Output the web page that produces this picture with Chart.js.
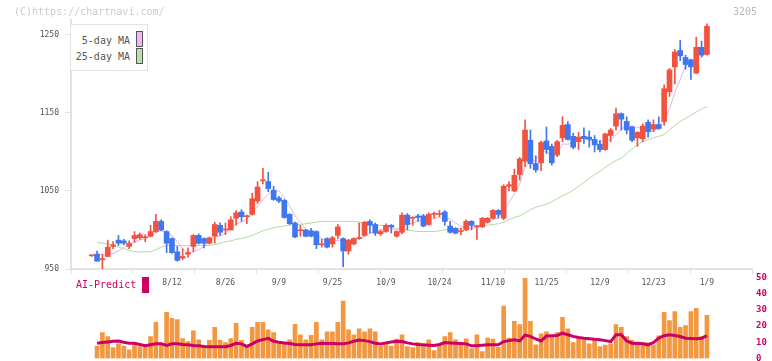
<!DOCTYPE html>
<html>
<head>
<meta charset="utf-8">
<script src="https://cdn.jsdelivr.net/npm/chart.js@4.4.1/dist/chart.umd.min.js"></script>
<style>
  body { margin: 0; background: #fff; }
  #wrap { position: relative; width: 772px; height: 361px; font-family: 'DejaVu Sans Mono', monospace; overflow: hidden; }
  canvas { position: absolute; left: 0; }
  #main { top: 0; }
  #vol { top: 270px; }
  .txt { position: absolute; white-space: nowrap; line-height: 12px; }
  .sw { position: absolute; width: 5px; height: 14px; border: 1px solid #555; }
</style>
</head>
<body>
<div id="wrap">
  <canvas id="vol" width="772" height="91"></canvas>
  <canvas id="main" width="772" height="300"></canvas>
  <div class="txt" style="left:14px;top:6px;font-size:10px;color:#ccc">(C)https://chartnavi.com/</div>
  <div class="txt" style="left:733px;top:6px;font-size:10px;color:#bbb">3205</div>
  <div style="position:absolute;left:70px;top:24px;width:76px;height:45px;border:1px solid #e2e2e2;background:#fff"></div>
  <div class="txt" style="right:642px;top:35px;font-size:10px;color:#555">5-day MA</div>
  <div class="txt" style="right:642px;top:51px;font-size:10px;color:#555">25-day MA</div>
  <div class="sw" style="left:136px;top:31px;background:#f0b8ee"></div>
  <div class="sw" style="left:136px;top:48px;background:#b9dfaa"></div>
  <div class="txt" style="left:76px;top:279px;font-size:10px;color:#cc0066">AI-Predict</div>
  <div style="position:absolute;left:142px;top:277px;width:7px;height:16px;background:#cc0066"></div>
</div>
<script>
'use strict';

let dates = ['7/18', '7/22', '7/23', '7/24', '7/25', '7/28', '7/29', '7/30', '7/31', '8/1',
  '8/4', '8/5', '8/6', '8/7', '8/8', '8/12', '8/13', '8/14', '8/15', '8/18',
  '8/19', '8/20', '8/21', '8/22', '8/25', '8/26', '8/27', '8/28', '8/29', '9/1',
  '9/2', '9/3', '9/4', '9/5', '9/8', '9/9', '9/10', '9/11', '9/12', '9/16',
  '9/17', '9/18', '9/19', '9/22', '9/24', '9/25', '9/26', '9/29', '9/30', '10/1',
  '10/2', '10/3', '10/6', '10/7', '10/8', '10/9', '10/10', '10/14', '10/15', '10/16',
  '10/17', '10/20', '10/21', '10/22', '10/23', '10/24', '10/27', '10/28', '10/29', '10/30',
  '10/31', '11/4', '11/5', '11/6', '11/7', '11/10', '11/11', '11/12', '11/13', '11/14',
  '11/17', '11/18', '11/19', '11/20', '11/21', '11/25', '11/26', '11/27', '11/28', '12/1',
  '12/2', '12/3', '12/4', '12/5', '12/8', '12/9', '12/10', '12/11', '12/12', '12/15',
  '12/16', '12/17', '12/18', '12/19', '12/22', '12/23', '12/24', '12/25', '12/26', '12/29',
  '12/30', '1/5', '1/6', '1/7', '1/8', '1/9'];

let shownDates = ['8/12', '8/26', '9/9', '9/25', '10/9', '10/24', '11/10', '11/25', '12/9', '12/23', '1/9'];
let priceTicks = [950, 1050, 1150, 1250];

let open = [967, 969, 962, 966, 979, 987, 986, 979, 989, 990,
  990, 992, 998, 1011, 998, 989, 972, 964, 969, 979,
  993, 989, 983, 992, 1006, 1000, 1000, 1015, 1023, 1017,
  1020, 1037, 1063, 1062, 1051, 1041, 1038, 1020, 1009, 999,
  1000, 999, 998, 981, 989, 982, 993, 989, 973, 982,
  989, 993, 1011, 1007, 995, 998, 1006, 992, 997, 1019,
  1015, 1018, 1018, 1007, 1020, 1020, 1023, 1005, 1002, 998,
  1000, 1011, 1004, 1004, 1010, 1015, 1025, 1015, 1056, 1050,
  1071, 1088, 1115, 1085, 1086, 1114, 1107, 1096, 1118, 1135,
  1120, 1113, 1120, 1119, 1116, 1110, 1103, 1121, 1133, 1149,
  1139, 1132, 1118, 1117, 1138, 1129, 1135, 1139, 1177, 1209,
  1230, 1221, 1218, 1201, 1234, 1225];

let high = [968, 973, 969, 987, 985, 993, 988, 986, 998, 996,
  994, 1006, 1020, 1013, 999, 990, 979, 976, 977, 994,
  995, 990, 991, 1010, 1009, 1009, 1017, 1025, 1026, 1019,
  1047, 1062, 1079, 1074, 1056, 1043, 1039, 1021, 1010, 1006,
  1001, 1002, 999, 988, 990, 992, 1007, 990, 988, 990,
  1009, 1011, 1013, 1009, 1000, 1008, 1007, 999, 1022, 1021,
  1017, 1020, 1020, 1022, 1023, 1025, 1025, 1011, 1003, 1002,
  1013, 1012, 1006, 1016, 1016, 1026, 1026, 1058, 1062, 1078,
  1093, 1141, 1128, 1095, 1114, 1132, 1110, 1115, 1145, 1139,
  1124, 1125, 1131, 1127, 1121, 1115, 1124, 1130, 1156, 1150,
  1145, 1133, 1126, 1136, 1141, 1141, 1145, 1186, 1207, 1231,
  1243, 1224, 1219, 1247, 1242, 1264];

let low = [966, 960, 949, 966, 976, 980, 981, 976, 984, 988,
  985, 991, 997, 999, 971, 970, 960, 962, 965, 972,
  982, 977, 982, 983, 993, 994, 1000, 1006, 1011, 1008,
  1019, 1034, 1059, 1049, 1038, 1035, 1015, 1007, 990, 992,
  991, 991, 976, 978, 977, 978, 989, 953, 969, 981,
  988, 992, 996, 993, 993, 997, 996, 991, 995, 1000,
  1006, 1011, 1004, 1006, 1015, 1017, 1006, 996, 995, 994,
  999, 1000, 988, 1003, 1009, 1014, 1015, 1013, 1050, 1049,
  1064, 1081, 1079, 1074, 1076, 1098, 1083, 1094, 1113, 1115,
  1104, 1103, 1111, 1106, 1100, 1100, 1102, 1113, 1128, 1128,
  1123, 1113, 1107, 1113, 1119, 1126, 1129, 1134, 1171, 1187,
  1217, 1206, 1193, 1200, 1222, 1224];

let close = [967, 960, 963, 978, 981, 983, 983, 983, 993, 994,
  991, 998, 1011, 1000, 983, 971, 961, 966, 971, 993,
  983, 983, 990, 1007, 997, 1001, 1013, 1022, 1017, 1018,
  1040, 1055, 1064, 1053, 1039, 1037, 1016, 1008, 991, 1000,
  992, 992, 981, 982, 978, 990, 1004, 973, 987, 989,
  990, 1010, 1006, 996, 998, 1006, 1004, 998, 1019, 1007,
  1016, 1016, 1005, 1020, 1020, 1021, 1011, 997, 996, 999,
  1011, 1006, 1005, 1015, 1015, 1025, 1020, 1056, 1058, 1070,
  1091, 1128, 1085, 1077, 1112, 1103, 1086, 1113, 1134, 1116,
  1106, 1119, 1117, 1116, 1109, 1103, 1123, 1128, 1149, 1142,
  1128, 1115, 1125, 1133, 1126, 1135, 1130, 1181, 1205, 1228,
  1223, 1212, 1209, 1234, 1224, 1261];

let ma5 = [null, 970, 968, 968, 970, 973, 978, 982, 985, 987,
  989, 992, 997, 999, 997, 993, 985, 976, 970, 972,
  975, 979, 984, 991, 992, 996, 1002, 1008, 1010, 1014,
  1022, 1030, 1039, 1046, 1050, 1050, 1042, 1031, 1018, 1010,
  1001, 997, 991, 989, 985, 985, 987, 985, 986, 989,
  989, 992, 996, 998, 1000, 1003, 1002, 1000, 1005, 1007,
  1009, 1011, 1013, 1013, 1015, 1016, 1015, 1014, 1009, 1005,
  1003, 1002, 1003, 1007, 1010, 1013, 1016, 1026, 1035, 1046,
  1059, 1081, 1086, 1090, 1099, 1101, 1093, 1098, 1110, 1110,
  1111, 1118, 1118, 1115, 1113, 1113, 1114, 1116, 1122, 1129,
  1134, 1132, 1132, 1129, 1125, 1127, 1130, 1141, 1155, 1176,
  1193, 1210, 1215, 1221, 1220, 1232];

let ma25 = [null, 984, 983, 982, 980, 978, 976, 974, 972, 972,
  972, 972, 975, 978, 980, 980, 980, 980, 980, 980,
  980, 980, 980, 981, 983, 985, 986, 988, 989, 991,
  993, 996, 999, 1001, 1003, 1004, 1005, 1006, 1007, 1007,
  1008, 1009, 1010, 1011, 1011, 1011, 1011, 1011, 1011, 1011,
  1010, 1009, 1008, 1007, 1006, 1005, 1004, 1002, 1001, 1000,
  999, 998, 998, 998, 998, 999, 1000, 1001, 1002, 1002,
  1003, 1004, 1005, 1006, 1006, 1007, 1008, 1010, 1013, 1016,
  1018, 1022, 1026, 1029, 1031, 1033, 1036, 1040, 1044, 1047,
  1051, 1056, 1061, 1066, 1071, 1075, 1080, 1085, 1089, 1092,
  1098, 1104, 1109, 1113, 1116, 1118, 1120, 1122, 1128, 1134,
  1139, 1143, 1147, 1151, 1155, 1158];

let volume = [null, 7.7, 16, 13.5, 6.7, 9, 7.7, 5.3, 9, 7.3,
  7.7, 13.5, 22.2, 9, 28.4, 24.7, 23.9, 12.3, 10.4, 17,
  11.5, 7.7, 11.1, 19.1, 11.1, 9.8, 12.3, 21.6, 11.1, 7.7,
  19.1, 22.2, 22.2, 17.7, 16, 9.8, 9.8, 11.5, 21, 14.6,
  11.5, 14.2, 22.2, 11.5, 16.4, 16.4, 22.2, 35.3, 17.7, 14.6,
  18.3, 16.4, 18.3, 16.4, 7.7, 9, 7.7, 11.9, 14.6, 7.3,
  6.7, 9.8, 8.2, 11.5, 4.8, 8.2, 13.5, 16, 11.5, 9.8,
  12.1, 6.1, 14.6, 4.2, 12.5, 11.9, 6.9, 32.2, 12.5, 22.8,
  20.8, 49.3, 22.8, 8.4, 15.2, 16.4, 13.5, 16, 25.3, 18.3,
  9.8, 12.3, 11.5, 9, 11.9, 7.3, 8.2, 9, 20.8, 19.1,
  13.5, 11.1, 10.2, 9.8, 9.8, 8.4, 14, 28.4, 23.3, 28.8,
  19.1, 20.2, 28.8, 30.9, 13.5, 26.6];

let aiPredict = [null, 9.4, 9.8, 10.2, 10.6, 10.8, 10, 9.4, 9.4, 8.6,
  7.8, 8.4, 9, 9, 8, 9, 9, 8.6, 8.4, 8,
  7.8, 7.4, 7.3, 7.3, 7.3, 7.3, 8, 9.4, 9, 7.4,
  9, 10.8, 11.6, 12.4, 10.6, 10, 9.6, 9.2, 8.6, 8.4,
  8.4, 8.4, 9, 9.4, 9.2, 9.2, 9, 9, 9.6, 10.6,
  11.4, 11, 10.4, 9.4, 9, 9.6, 10.2, 10.6, 10.4, 9.6,
  9, 8.6, 8.4, 8.2, 8, 8.6, 9.8, 9.6, 9.4, 9.2,
  9, 7.8, 7.8, 8.2, 8.4, 8.4, 8.4, 10.4, 11, 11.5,
  10.8, 14.4, 13.6, 12, 10.8, 13.8, 14, 14.2, 15.6, 14.6,
  13.6, 12.9, 12.5, 12.2, 11.8, 11.5, 11, 10.4, 14.6, 14.6,
  10.8, 9.4, 9.2, 9, 8.4, 9.8, 12.6, 14, 14.6, 14.2,
  13.5, 12.5, 12.3, 12.1, 12.5, 14];

const FONT = "'DejaVu Sans Mono', monospace";
const UP = '#f15340';
const DOWN = '#3f77f0';
const AXIS = '#e2e2e2';

// x range so both panels share the same candle positions
const xMin = -3.87;
const xMax = 123.42;

Chart.defaults.font.family = FONT;
Chart.defaults.animation = false;

let candleColors = close.map((c, i) => (c >= open[i] ? UP : DOWN));
let wicks = dates.map((d, i) => ({ x: i, y: [low[i], high[i]] }));
let bodies = dates.map((d, i) => ({ x: i, y: [Math.min(open[i], close[i]), Math.max(open[i], close[i])] }));
let toPoints = (arr) => arr.map((v, i) => ({ x: i, y: v }));

let tickIndexes = shownDates.map((d) => dates.indexOf(d));

new Chart(document.getElementById('main'), {
  type: 'bar',
  data: {
    datasets: [
      {
        type: 'bar', data: bodies, backgroundColor: candleColors, barThickness: 5,
        minBarLength: 1, grouped: false, borderWidth: 0, order: 0, xAxisID: 'x', yAxisID: 'y',
      },
      {
        type: 'bar', data: wicks, backgroundColor: candleColors, barThickness: 1,
        grouped: false, borderWidth: 0, order: 1, xAxisID: 'x', yAxisID: 'y',
      },
      {
        type: 'line', data: toPoints(ma5), borderColor: '#e6b0ea', borderWidth: 1,
        pointRadius: 0, order: 2, xAxisID: 'x', yAxisID: 'y',
      },
      {
        type: 'line', data: toPoints(ma25), borderColor: '#b3daa2', borderWidth: 1,
        pointRadius: 0, order: 3, xAxisID: 'x', yAxisID: 'y',
      },
    ],
  },
  options: {
    responsive: false,
    layout: { padding: { left: 0, right: 20, top: 20, bottom: 0 } },
    plugins: { legend: { display: false }, tooltip: { enabled: false } },
    scales: {
      x: {
        type: 'linear', min: xMin, max: xMax, offset: false, position: 'bottom', weight: 1,
        grid: { display: false, drawTicks: false, offset: false },
        border: { display: false },
        afterBuildTicks: (s) => { s.ticks = tickIndexes.map((v) => ({ value: v })); },
        afterFit: (s) => { s.height = 25; },
        ticks: {
          callback: (v) => dates[v], autoSkip: false, maxRotation: 0,
          font: { size: 8 }, color: '#555', padding: 3,
        },
      },
      xg: {
        type: 'linear', min: 0, max: 11, offset: false, position: 'bottom', weight: 0,
        ticks: { display: false, stepSize: 1 },
        grid: { drawOnChartArea: false, drawTicks: true, tickLength: 5, color: AXIS, lineWidth: 1, offset: false },
        border: { display: true, color: AXIS, width: 2 },
        afterFit: (s) => { s.height = 6; },
      },
      y: {
        min: 950, max: 1269, position: 'left',
        afterBuildTicks: (s) => { s.ticks = priceTicks.map((v) => ({ value: v })); },
        afterFit: (s) => { s.width = 71; s.paddingTop = 0; s.paddingBottom = 0; },
        ticks: { callback: (v) => String(v), font: { size: 8 }, color: '#555', padding: 6 },
        grid: { drawOnChartArea: false, tickLength: 6, color: AXIS, lineWidth: 1 },
        border: { color: AXIS, width: 2 },
      },
    },
  },
});

new Chart(document.getElementById('vol'), {
  type: 'bar',
  data: {
    datasets: [
      {
        type: 'line', data: toPoints(aiPredict), borderColor: '#cc0066', borderWidth: 3,
        pointRadius: 0, order: 0,
      },
      {
        type: 'bar', data: toPoints(volume), backgroundColor: '#f29840', barThickness: 4,
        borderWidth: 0, order: 1,
      },
    ],
  },
  options: {
    responsive: false,
    layout: { padding: { left: 71, right: 0, top: 7.2, bottom: 2.5 } },
    plugins: { legend: { display: false }, tooltip: { enabled: false } },
    scales: {
      x: { type: 'linear', min: xMin, max: xMax, offset: false, display: false },
      y: {
        position: 'right', min: 0, max: 50,
        afterFit: (s) => { s.width = 20; s.paddingTop = 0; s.paddingBottom = 0; },
        ticks: { stepSize: 10, color: '#cc0066', font: { size: 9, weight: 'bold' }, padding: 4 },
        grid: { display: false, drawTicks: false },
        border: { display: false },
      },
    },
  },
});
</script>
</body>
</html>
